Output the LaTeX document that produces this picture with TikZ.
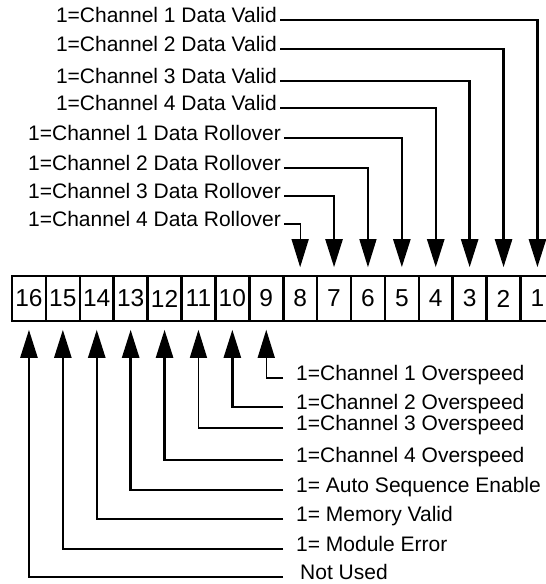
\documentclass[tikz,border=0pt]{standalone}
\usepackage{fontspec}
\setmainfont{Liberation Sans}
\usetikzlibrary{arrows.meta}
\tikzset{
  cell/.style={draw, line width=2.6pt, minimum width=33.9pt, minimum height=45pt, inner sep=0pt, font=\fontsize{24.5}{28}\selectfont},
  toplab/.style={inner xsep=3pt, inner ysep=0pt, anchor=mid west, font=\fontsize{21}{25}\selectfont},
  botlab/.style={inner xsep=13pt, inner ysep=0pt, anchor=mid west, font=\fontsize{21}{25}\selectfont},
  conn/.style={line width=2.5pt, -{Triangle[length=28pt,width=17pt]}, shorten >=7.5pt},
  thinconn/.style={conn, line width=1.3pt},
}
\begin{document}
\begin{tikzpicture}[x=1pt,y=-1pt]
\useasboundingbox (0,0) rectangle (546,584);
\clip (0,0) rectangle (546,584);
% register cells
\foreach \n in {1,...,16}{
  \node[cell] (c\n) at ({28.95+(16-\n)*33.9}, 298.5) {\n};
}
% top labels
\node[toplab] (v1) at (52.8,20)  {1=Channel 1 Data Valid};
\node[toplab] (v2) at (52.8,49)  {1=Channel 2 Data Valid};
\node[toplab] (v3) at (52.8,81)  {1=Channel 3 Data Valid};
\node[toplab] (v4) at (52.8,108) {1=Channel 4 Data Valid};
\node[toplab] (r1) at (25,138)   {1=Channel 1 Data Rollover};
\node[toplab] (r2) at (25,168)   {1=Channel 2 Data Rollover};
\node[toplab] (r3) at (25,196)   {1=Channel 3 Data Rollover};
\node[toplab] (r4) at (25,224)   {1=Channel 4 Data Rollover};
\draw[conn] (v1.mid east) -| (c1.north);
\draw[conn] (v2.mid east) -| (c2.north);
\draw[conn] (v3.mid east) -| (c3.north);
\draw[conn] (v4.mid east) -| (c4.north);
\draw[conn] (r1.mid east) -| (c5.north);
\draw[thinconn] (r2.mid east) -| (c6.north);
\draw[conn] (r3.mid east) -| (c7.north);
\draw[thinconn] (r4.mid east) -| (c8.north);
% bottom labels
\node[botlab] (o1) at (283,378) {1=Channel 1 Overspeed};
\node[botlab] (o2) at (283,407) {1=Channel 2 Overspeed};
\node[botlab] (o3) at (283,428) {1=Channel 3 Overspeed};
\node[botlab] (o4) at (283,460) {1=Channel 4 Overspeed};
\node[botlab] (as) at (283,490) {1= Auto Sequence Enable};
\node[botlab] (mv) at (283,519) {1= Memory Valid};
\node[botlab] (me) at (283,549) {1= Module Error};
\node[botlab, inner xsep=17pt] (nu) at (283,577) {Not Used};
\draw[thinconn] (o1.mid west) -| (c9.south);
\draw[conn] (o2.mid west) -| (c10.south);
\draw[thinconn] (o3.mid west) -| (c11.south);
\draw[conn] (o4.mid west) -| (c12.south);
\draw[conn] (as.mid west) -| (c13.south);
\draw[conn] (mv.mid west) -| (c14.south);
\draw[conn] (me.mid west) -| (c15.south);
\draw[conn] (nu.mid west) -| (c16.south);
\end{tikzpicture}
\end{document}
